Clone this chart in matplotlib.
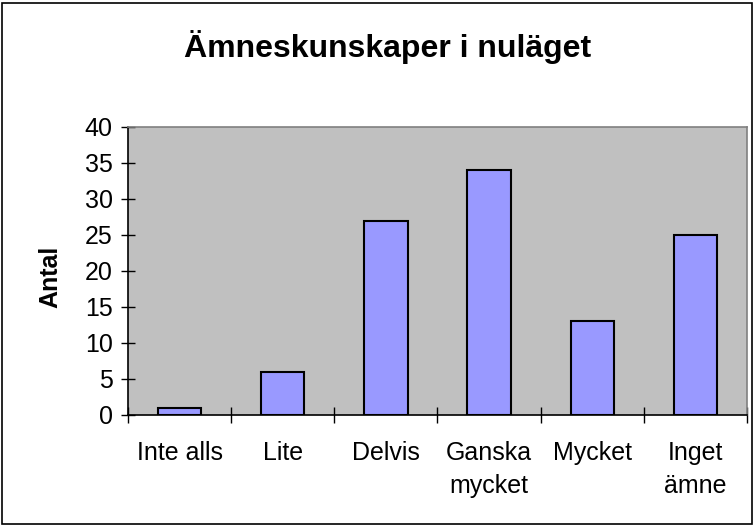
import matplotlib.pyplot as plt
import numpy as np

plt.rcParams['font.family'] = ['Liberation Sans', 'DejaVu Sans']

kategorier = ['Inte alls', 'Lite', 'Delvis', 'Ganska\nmycket', 'Mycket', 'Inget\nämne']
antal = [1, 6, 27, 34, 13, 25]

fig = plt.figure(figsize=(7.55, 5.27), dpi=100)
ax = fig.add_axes([128 / 755, 112 / 527, 619 / 755, 288 / 527])
ax.set_facecolor('#C0C0C0')

x = np.arange(len(kategorier))
ax.bar(x, antal, width=0.42, color='#9999FF', edgecolor='black', linewidth=1.5, zorder=3)

ax.set_xlim(-0.5, len(kategorier) - 0.5)
ax.set_ylim(0, 40)
ax.set_yticks(range(0, 41, 5))
ax.set_xticks(x)
ax.set_xticklabels(kategorier, fontsize=18, linespacing=1.45)
ax.set_xticks(np.arange(-0.5, len(kategorier), 1), minor=True)
ax.tick_params(axis='x', which='major', length=0, pad=19)
ax.tick_params(axis='x', which='minor', direction='inout', length=11, width=1)
ax.tick_params(axis='y', direction='inout', length=10, width=1, labelsize=18, pad=6)

ax.spines['left'].set_color('black')
ax.spines['bottom'].set_color('black')
ax.spines['top'].set_color('#808080')
ax.spines['right'].set_color('#808080')
for s in ax.spines.values():
    s.set_linewidth(1.2)

ax.set_ylabel('Antal', fontsize=18, fontweight='bold')
ax.yaxis.set_label_coords(-66 / 619, 0.48)
fig.text(388 / 755, 1 - 57 / 527, 'Ämneskunskaper i nuläget', ha='center', va='baseline',
         fontsize=23, fontweight='bold')

# ram runt hela diagrammet
fig.patches.append(plt.Rectangle((2 / 755, 3 / 527), 750 / 755, 521 / 527, transform=fig.transFigure,
                                 fill=False, edgecolor='black', linewidth=1.2))

fig.savefig('out.png', dpi=100)
